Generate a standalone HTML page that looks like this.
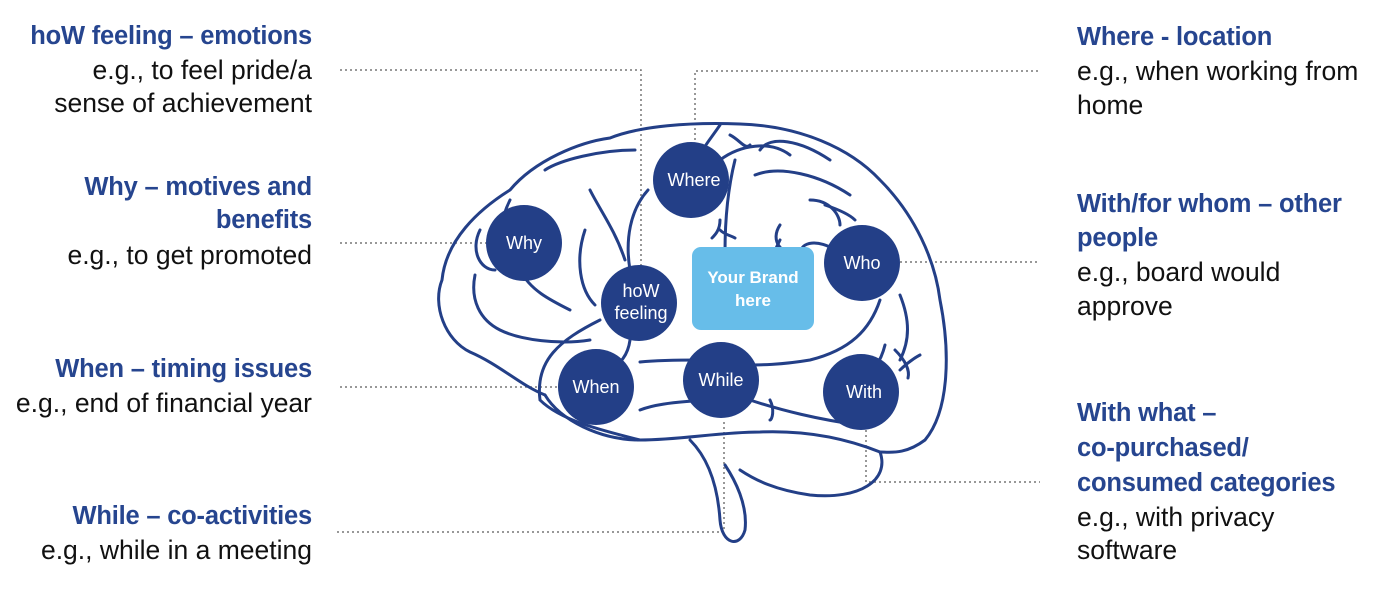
<!DOCTYPE html>
<html><head><meta charset="utf-8"><style>
body{margin:0;width:1394px;height:598px;background:#fff;position:relative;overflow:hidden;font-family:"Liberation Sans",sans-serif}
.t{position:absolute;font-size:26.5px;line-height:34px;white-space:nowrap;color:#111}
.l{right:1082px;text-align:right}
.r{left:1077px}
.b{color:#26458f;font-weight:bold;font-size:25.5px;letter-spacing:-0.2px}
svg{position:absolute;left:0;top:0}
</style></head><body>
<svg width="1394" height="598" viewBox="0 0 1394 598">
<g stroke="#777" stroke-width="1.5" stroke-dasharray="2 3" fill="none">
<path d="M340 70H641V268"/>
<path d="M695 145V71H1040"/>
<path d="M340 243H486"/>
<path d="M900 262H1040"/>
<path d="M340 387H558"/>
<path d="M337 532H724V420"/>
<path d="M866 430V482H1040"/>
</g>
<g stroke="#233f87" stroke-width="3" fill="none" stroke-linecap="round">
<path d="M545 395C520 385 500 365 470 352C445 340 432 305 442 280C446 240 478 210 510 190C535 160 580 142 610 138C640 126 690 122 740 124C800 126 850 148 880 180C915 215 935 260 940 300C950 350 950 410 925 440C905 455 890 452 880 452"/>
<path d="M545 395C560 420 600 440 640 440C680 440 720 432 760 432C810 430 850 440 880 452"/>
<path d="M880 452C890 480 860 500 810 495C775 490 755 480 740 470"/>
<path d="M690 440C710 460 718 490 720 520C722 545 740 548 745 530C748 505 735 480 725 465"/>
<path d="M640 440C600 430 560 420 540 400C535 360 560 340 600 320"/>
<path d="M475 275C470 300 480 320 500 330C520 340 560 345 590 340"/>
<path d="M480 230C470 250 480 270 495 270"/>
<path d="M520 270C530 290 550 300 570 310"/>
<path d="M510 200C500 220 495 250 500 260"/>
<path d="M545 170C560 160 600 150 635 150"/>
<path d="M590 190C600 210 615 230 625 260"/>
<path d="M585 230C575 260 580 290 595 305"/>
<path d="M648 190C630 210 625 240 630 270"/>
<path d="M720 125C710 140 700 150 700 160"/>
<path d="M720 220C720 230 715 235 712 238M720 230C725 235 730 235 735 238"/>
<path d="M730 135C740 140 745 150 750 145"/>
<path d="M735 160C725 200 725 240 725 252"/>
<path d="M760 150C770 135 800 140 830 160"/>
<path d="M755 175C780 165 820 175 850 195"/>
<path d="M780 225C770 240 780 255 800 255C800 240 820 240 835 250"/>
<path d="M780 240C775 250 770 260 770 270"/>
<path d="M825 205C840 210 850 215 855 220"/>
<path d="M810 200C830 200 840 215 840 225"/>
<path d="M900 295C910 320 910 340 900 360"/>
<path d="M880 300C870 330 850 350 810 360C780 365 760 365 745 365"/>
<path d="M885 345C880 365 870 375 860 380"/>
<path d="M895 350C905 360 910 370 908 378"/>
<path d="M900 370C910 360 920 355 920 355"/>
<path d="M750 400C780 410 820 420 860 425"/>
<path d="M770 400C775 410 772 420 770 420"/>
<path d="M640 410C660 402 690 402 700 400"/>
<path d="M630 340C628 355 620 365 610 368"/>
<path d="M640 362C660 360 690 360 700 360"/>
<path d="M720 160C740 145 770 140 790 155"/>
</g>
<g fill="#233f87">
<circle cx="691" cy="180" r="38"/>
<circle cx="524" cy="243" r="38"/>
<circle cx="639" cy="303" r="38"/>
<circle cx="862" cy="263" r="38"/>
<circle cx="596" cy="387" r="38"/>
<circle cx="721" cy="380" r="38"/>
<circle cx="861" cy="392" r="38"/>
</g>
<rect x="692" y="247" width="122" height="83" rx="9" fill="#67bde9"/>
<g fill="#fff" font-family="Liberation Sans, sans-serif" font-size="18" text-anchor="middle">
<text x="694" y="186">Where</text>
<text x="524" y="249">Why</text>
<text x="641" y="297">hoW</text>
<text x="641" y="319">feeling</text>
<text x="862" y="269">Who</text>
<text x="596" y="393">When</text>
<text x="721" y="386">While</text>
<text x="864" y="398">With</text>
<text x="753" y="283" font-weight="bold" font-size="17">Your Brand</text>
<text x="753" y="306" font-weight="bold" font-size="17">here</text>
</g>
</svg>
<div class="t l b" style="top:19px">hoW feeling – emotions</div>
<div class="t l" style="top:53px">e.g., to feel pride/a</div>
<div class="t l" style="top:86px">sense of achievement</div>
<div class="t l b" style="top:170px">Why – motives and</div>
<div class="t l b" style="top:203px">benefits</div>
<div class="t l" style="top:238px">e.g., to get promoted</div>
<div class="t l b" style="top:352px">When – timing issues</div>
<div class="t l" style="top:386px">e.g., end of financial year</div>
<div class="t l b" style="top:499px">While – co-activities</div>
<div class="t l" style="top:533px">e.g., while in a meeting</div>
<div class="t r b" style="top:20px">Where - location</div>
<div class="t r" style="top:54px">e.g., when working from</div>
<div class="t r" style="top:88px">home</div>
<div class="t r b" style="top:187px">With/for whom – other</div>
<div class="t r b" style="top:221px">people</div>
<div class="t r" style="top:255px">e.g., board would</div>
<div class="t r" style="top:289px">approve</div>
<div class="t r b" style="top:396px">With what –</div>
<div class="t r b" style="top:431px">co-purchased/</div>
<div class="t r b" style="top:466px">consumed categories</div>
<div class="t r" style="top:500px">e.g., with privacy</div>
<div class="t r" style="top:533px">software</div>
</body></html>
